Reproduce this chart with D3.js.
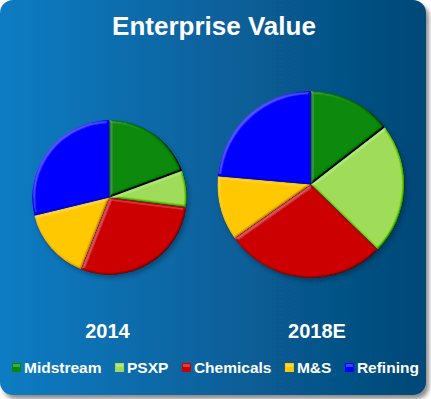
<!DOCTYPE html>
<html>
<head>
<meta charset="utf-8">
<script src="https://cdn.jsdelivr.net/npm/d3@7"></script>
<style>
  body { margin: 0; background: #fff; }
  text { font-family: "Liberation Sans", Arial, sans-serif; font-weight: bold; fill: #fff; }
</style>
</head>
<body>
<svg id="chart" width="431" height="399"></svg>
<script>
// data (percent of enterprise value)
const categories = ['Midstream', 'PSXP', 'Chemicals', 'M&S', 'Refining']
const colors = ['#078907', '#9edc5a', '#cc0000', '#ffc800', '#0000ff']
const years = ['2014', '2018E']
const share2014 = [19.4, 7.6, 29.0, 15.2, 28.8]
const share2018 = [14.5, 22.8, 27.9, 11.2, 23.6]
// relative total size (pie area), 2014 = 100
const totals = [100, 146]

const svg = d3.select('#chart')
const defs = svg.append('defs')

// background gradient
const grad = defs.append('linearGradient').attr('id', 'bg')
grad.append('stop').attr('offset', '0%').attr('stop-color', '#0a7cc3')
grad.append('stop').attr('offset', '100%').attr('stop-color', '#054877')

// soft shadow under the panel
const sh = defs.append('filter').attr('id', 'panelShadow')
    .attr('x', '-5%').attr('y', '-5%').attr('width', '115%').attr('height', '115%')
sh.append('feDropShadow').attr('dx', 3).attr('dy', 4).attr('stdDeviation', 2)
    .attr('flood-color', '#000').attr('flood-opacity', 0.45)

// bevel look on the slices (light from top-left)
const elev = 55
const bev = defs.append('filter').attr('id', 'bevel')
bev.append('feGaussianBlur').attr('in', 'SourceAlpha').attr('stdDeviation', 1.2).attr('result', 'blur')
bev.append('feDiffuseLighting').attr('in', 'blur').attr('surfaceScale', 2.5)
    .attr('diffuseConstant', 1).attr('lighting-color', '#fff').attr('result', 'light')
    .append('feDistantLight').attr('azimuth', 225).attr('elevation', elev)
bev.append('feComposite').attr('in', 'SourceGraphic').attr('in2', 'light')
    .attr('operator', 'arithmetic').attr('k1', 0).attr('k2', 1)
    .attr('k3', 0.5).attr('k4', -0.5 * Math.sin(elev * Math.PI / 180))
    .attr('result', 'lit')
bev.append('feComposite').attr('in', 'lit').attr('in2', 'SourceAlpha').attr('operator', 'in')

// drop shadow for each pie
const ps = defs.append('filter').attr('id', 'pieShadow')
    .attr('x', '-10%').attr('y', '-10%').attr('width', '125%').attr('height', '125%')
ps.append('feDropShadow').attr('dx', 2).attr('dy', 3).attr('stdDeviation', 2.5)
    .attr('flood-color', '#000').attr('flood-opacity', 0.3)

// the panel
svg.append('rect')
    .attr('x', 0).attr('y', 0)
    .attr('width', 426).attr('height', 395)
    .attr('rx', 13)
    .attr('fill', 'url(#bg)')
    .attr('filter', 'url(#panelShadow)')

// title
svg.append('text')
    .attr('x', 214).attr('y', 35)
    .attr('text-anchor', 'middle')
    .style('font-size', '26px')
    .text('Enterprise Value')

// pies
const radius = d3.scaleSqrt().domain([0, totals[1]]).range([0, 93.5])
const centers = [[109.5, 197.5], [311, 184.5]]
const labelX = [107.5, 317]
const pie = d3.pie().sort(null).value(d => d)

;[share2014, share2018].forEach((vals, i) => {
    const r = radius(totals[i])
    const arc = d3.arc().innerRadius(0).outerRadius(r)
    const g = svg.append('g')
        .attr('transform', `translate(${centers[i][0]},${centers[i][1]})`)
        .attr('filter', 'url(#pieShadow)')
    g.selectAll('path')
        .data(pie(vals))
        .enter()
        .append('path')
        .attr('d', arc)
        .attr('fill', (d, j) => colors[j])
        .attr('filter', 'url(#bevel)')

    svg.append('text')
        .attr('x', labelX[i]).attr('y', 338)
        .attr('text-anchor', 'middle')
        .style('font-size', '20px')
        .text(years[i])
})

// legend
const legend = svg.append('g').attr('transform', 'translate(12,373)')
let lx = 0
categories.forEach((c, i) => {
    const item = legend.append('g').attr('transform', `translate(${lx},0)`)
    item.append('rect')
        .attr('x', 0).attr('y', -10)
        .attr('width', 9).attr('height', 9)
        .attr('fill', colors[i])
    item.append('rect')
        .attr('x', 1).attr('y', -9)
        .attr('width', 7).attr('height', 3)
        .attr('fill', '#fff').attr('opacity', 0.25)
    const t = item.append('text')
        .attr('x', 12).attr('y', 0)
        .style('font-size', '15.5px')
        .text(c)
    lx += 12 + t.node().getComputedTextLength() + 13.5
})
</script>
</body>
</html>
